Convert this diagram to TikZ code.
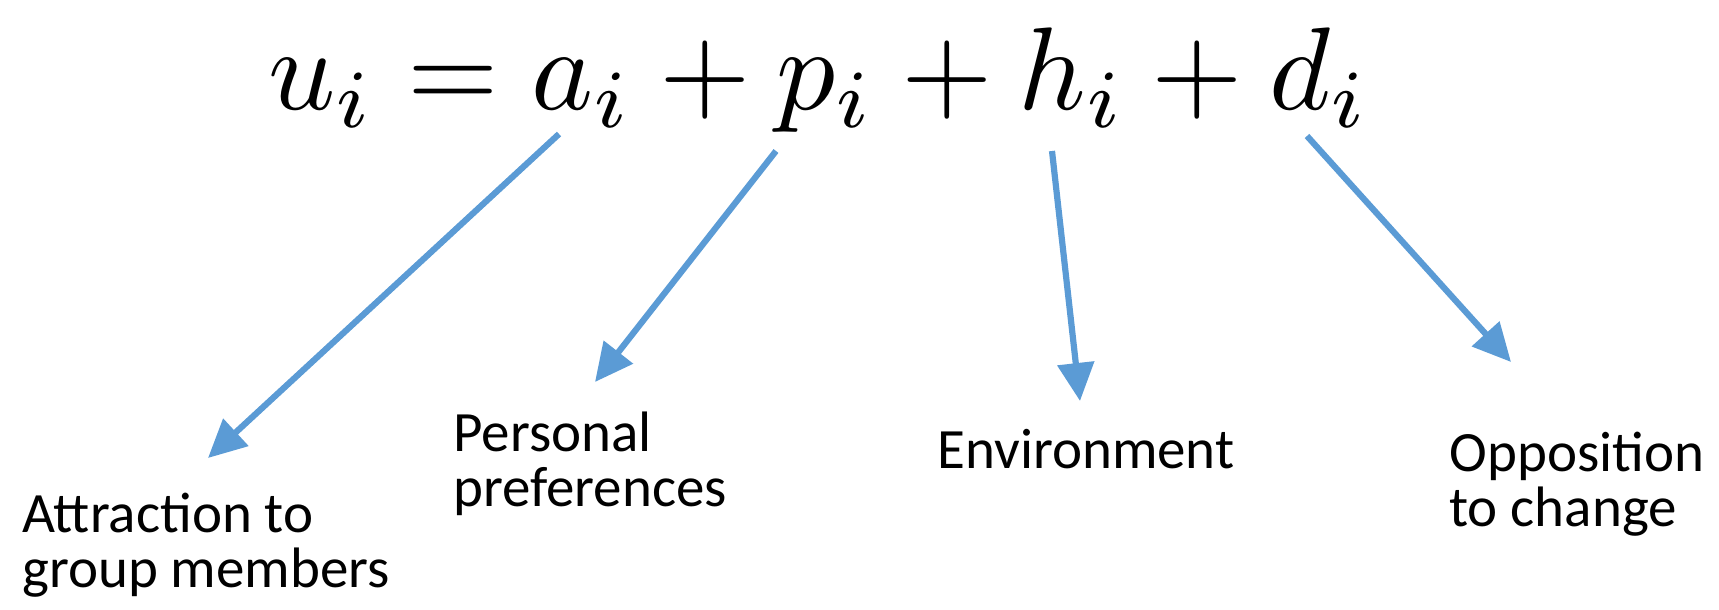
\documentclass[tikz,border=0pt]{standalone}
\usepackage[no-math]{fontspec}
\usepackage{graphicx}
\newfontfamily\calibri{Carlito}
\usetikzlibrary{arrows.meta}
\definecolor{arrowblue}{HTML}{5B9BD5}
\tikzset{
  term/.style={inner sep=0pt},
  lbl/.style={inner sep=0pt,align=left,anchor=base west,font=\calibri\fontsize{28.5}{27.5}\selectfont},
  pointer/.style={-{Triangle[length=19pt,width=18pt]},draw=arrowblue,line width=3.1pt}}

\begin{document}
\begin{tikzpicture}[x=0.5pt,y=-0.5pt]
  \useasboundingbox (0,0) rectangle (1719,610);
  \node[term,anchor=base] (eq) at (819,110) {\scalebox{5.88}{$u_i = a_i + p_i + h_i + d_i$}};
  % two-line labels sit on their last baseline
  \node[lbl] (att) at (22,587)   {Attraction to\\group members};
  \node[lbl] (pers) at (453,506) {Personal\\preferences};
  \node[lbl] (env) at (937,468)  {Environment};
  \node[lbl] (opp) at (1449,526) {Opposition\\to change};
  % arrow ends
  \coordinate (a0) at (559,134);  \coordinate (a1) at (208,458);
  \coordinate (p0) at (776,151);  \coordinate (p1) at (595,382);
  \coordinate (h0) at (1052,151); \coordinate (h1) at (1080,401);
  \coordinate (d0) at (1307,136); \coordinate (d1) at (1511,362);
  \foreach \t in {a,p,h,d}{\draw[pointer] (\t0) -- (\t1);}
\end{tikzpicture}
\end{document}
